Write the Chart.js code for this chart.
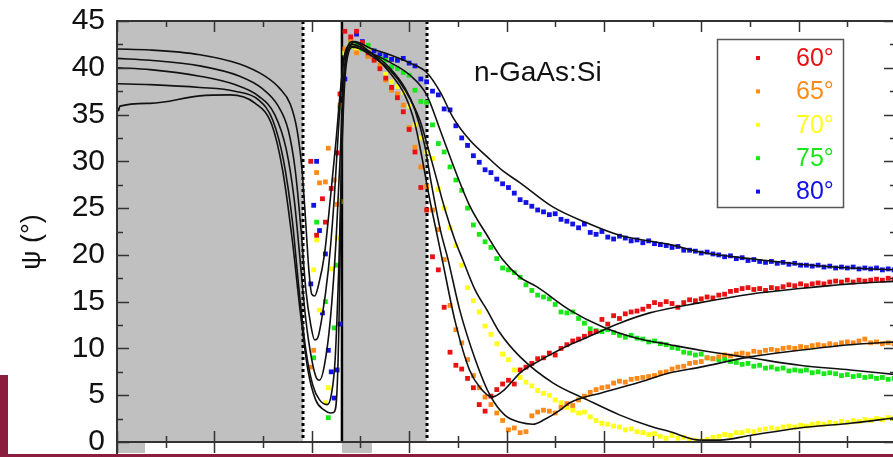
<!DOCTYPE html>
<html>
<head>
<meta charset="utf-8">
<script src="https://cdn.jsdelivr.net/npm/chart.js@4.4.1/dist/chart.umd.min.js"></script>
<style>
  html, body { margin: 0; padding: 0; background: #fff; overflow: hidden; }
  #wrap { position: absolute; left: 0; top: 0; width: 910px; height: 457px; }
  #band { position: absolute; left: 0; top: 375px; width: 8px; height: 82px; background: #8b1e3f; }
  #rule { position: absolute; left: 0; top: 454px; width: 893px; height: 3px; background: #8b1e3f; }
</style>
</head>
<body>
<div id="wrap"><canvas id="psiChart"></canvas></div>
<div id="band"></div>
<div id="rule"></div>
<script>
// measurement grid (x axis has no labels, arbitrary units)
const wavenumber = [
  196, 199, 202, 205, 208, 211, 214, 217, 220, 223, 226, 229,
  234, 240, 246, 252, 258, 264, 270, 276, 282, 288,
  294, 300, 306, 312, 318, 324, 330, 336, 342, 348,
  354, 360, 366, 372, 378, 384, 390, 396, 402, 408,
  414, 420, 426, 432, 438, 444, 450, 456, 462, 468,
  474, 480, 486, 492, 498, 504, 510, 516, 522, 528,
  534, 540, 546, 552, 558, 564, 570, 576, 582, 588,
  594, 600, 606, 612, 618, 624, 630, 636, 642, 648,
  654, 660, 666, 672, 678, 684, 690, 696, 702, 708,
  714, 720, 726, 732, 738, 744, 750, 756, 762, 768,
  774, 780, 786, 792, 798
];

// measured psi (deg) for each angle of incidence
const psi60 = [
  null, 30.0, null, 22.1, null, 26.0, 23.5, null, 27.1, null, 30.9, 37.2,
  43.9, 43.3, 43.9, 42.7, 41.6, 40.8, 39.9, 38.9, 37.9, 36.8,
  35.3, 33.4, 31.0, 27.2, 24.8, 19.8, 18.4, 14.4, 9.6, 8.2,
  7.8, 6.8, 5.8, 4.0, 3.3, 4.9, 5.6, 6.2, 6.6, 6.2,
  7.7, 8.0, 8.4, 8.9, 9.0, 9.5, 9.3, 10.0, 10.4, 10.8,
  11.0, 11.3, 11.6, 11.8, 13.1, 12.6, 13.5, 13.2, 13.7, 13.9,
  14.0, 14.2, 14.5, 14.9, 14.7, 15.0, 14.8, 14.4, 14.9, 15.2,
  15.1, 15.3, 15.5, 15.4, 15.7, 15.8, 16.1, 16.2, 16.4, 16.5,
  16.3, 16.4, 16.2, 16.5, 16.4, 16.6, 16.8, 16.7, 16.9, 16.7,
  16.9, 17.0, 16.9, 17.1, 17.2, 17.1, 17.3, 17.1, 17.3, 17.2,
  17.3, 17.4, 17.3, 17.5, 17.4
];
const psi65 = [
  null, 8.0, 9.8, 28.8, 27.7, null, 27.8, 31.4, null, 28.0, 25.4, 36.0,
  42.0, 42.9, 41.6, 42.3, 41.2, 41.0, 40.3, 38.7, 37.6, 37.2,
  36.0, 33.6, 31.5, 29.4, 27.3, 24.8, 22.7, 19.5, 14.6, 12.0,
  10.6, 8.8, 7.1, 5.8, 4.8, 4.0, 3.1, 2.3, 1.3, 1.5,
  1.0, 1.1, 2.8, 3.2, 3.4, 3.3, 3.1, 3.7, 4.1, 3.9,
  4.5, 4.9, 5.3, 5.6, 5.8, 5.9, 6.3, 6.5, 6.4, 6.7,
  6.8, 6.9, 7.0, 7.1, 7.4, 7.5, 7.8, 8.0, 8.1, 8.4,
  8.5, 8.6, 9.0, 8.9, 9.1, 9.3, 9.2, 9.4, 9.5, 9.4,
  9.7, 9.6, 9.8, 9.9, 9.8, 10.0, 10.1, 10.0, 10.2, 10.1,
  10.3, 10.4, 10.3, 10.5, 10.4, 10.6, 10.7, 10.6, 10.8, 11.0,
  10.6, 10.7, 10.5, 10.6, 10.5
];
const psi70 = [
  null, null, 18.4, 21.6, 14.1, null, 4.2, 5.8, 18.5, null, 21.8, 25.7,
  41.6, 42.3, 41.9, 42.4, 41.7, 41.0, 40.3, 39.3, 38.5, 38.0,
  37.4, 35.9, 33.9, 32.5, 31.0, 30.3, 27.0, 25.0, 22.9, 21.0,
  18.9, 16.5, 15.1, 13.9, 12.4, 11.5, 10.5, 9.4, 8.8, 7.7,
  6.9, 6.4, 6.0, 5.5, 5.2, 5.0, 4.5, 4.2, 3.7, 3.4,
  3.1, 3.2, 2.7, 2.3, 2.0, 1.9, 1.7, 1.6, 1.3, 1.4,
  1.1, 1.0, 0.8, 0.9, 0.6, 0.4, 0.7, 0.4, 0.5, 0.3,
  0.2, 0.1, 0.3, 0.5, 0.6, 0.8, 0.7, 1.0, 1.0, 1.2,
  1.1, 1.3, 1.4, 1.5, 1.4, 1.6, 1.7, 1.6, 1.8, 1.7,
  1.9, 2.0, 1.9, 2.1, 2.0, 2.2, 2.1, 2.3, 2.2, 2.4,
  2.3, 2.5, 2.4, 2.6, 2.5
];
const psi75 = [
  null, null, 9.0, 23.5, null, null, 15.0, 2.6, null, 12.2, 18.9, 35.8,
  41.6, 42.7, 42.5, 42.0, 42.4, 41.1, 41.0, 40.8, 40.1, 39.9,
  39.5, 39.2, 37.6, 36.4, 36.3, 33.9, 31.9, 31.0, 29.4, 28.0,
  26.9, 25.0, 23.2, 22.2, 21.4, 20.8, 19.6, 18.6, 18.4, 18.1,
  17.6, 16.8, 16.2, 15.7, 15.5, 15.3, 14.7, 13.9, 13.8, 13.9,
  13.2, 12.7, 12.1, 11.9, 11.8, 12.0, 11.7, 11.4, 11.2, 11.4,
  11.1, 11.0, 10.7, 10.8, 10.5, 10.4, 10.1, 10.0, 9.6, 9.5,
  9.3, 9.4, 9.0, 8.9, 8.8, 8.9, 8.6, 8.5, 8.3, 8.4,
  8.1, 8.2, 7.9, 8.0, 7.8, 7.9, 7.6, 7.7, 7.6, 7.7,
  7.4, 7.5, 7.3, 7.4, 7.3, 7.1, 7.2, 7.0, 7.1, 6.9,
  7.0, 6.8, 6.9, 6.7, 6.8
];
const psi80 = [
  null, 16.9, 25.3, 30.0, 22.6, 13.8, 20.1, 9.8, 7.5, 4.7, 7.7, 12.6,
  38.8, 42.8, 43.6, 42.8, 41.3, 41.8, 41.4, 41.3, 40.9, 40.8,
  41.0, 40.5, 40.2, 38.8, 38.5, 37.5, 37.1, 35.6, 35.5, 33.8,
  32.5, 31.7, 30.6, 29.9, 29.1, 28.8, 28.1, 27.6, 27.2, 26.6,
  25.9, 25.6, 25.2, 24.8, 24.6, 24.3, 24.4, 23.8, 23.6, 23.3,
  22.9, 23.3, 22.4, 22.2, 22.5, 21.9, 21.7, 22.0, 21.8, 21.5,
  21.6, 21.3, 21.5, 21.2, 21.1, 21.0, 20.8, 20.9, 20.5, 20.5,
  20.4, 20.2, 20.3, 20.1, 20.0, 19.8, 19.9, 19.6, 19.7, 19.4,
  19.5, 19.3, 19.2, 19.3, 19.1, 19.2, 19.0, 19.1, 18.9, 18.9,
  18.8, 18.9, 18.7, 18.8, 18.6, 18.7, 18.6, 18.7, 18.5, 18.6,
  18.5, 18.6, 18.4, 18.5, 18.4
];

// model fits (black lines)
const fit60x = [0, 34, 85, 126, 152, 167, 178, 185, 190, 194, 197, 200, 203, 207, 213, 219, 225, 229, 233, 238,
  242, 252, 265, 280, 296, 306, 313, 321, 328, 334, 347, 362, 373, 385, 398, 414, 434, 448, 465, 483,
  516, 547, 599, 650, 701, 753, 800];
const fit60y = [42.0, 41.9, 41.4, 40.4, 39.1, 37.8, 36.1, 33.3, 29.1, 23.2, 18.4, 15.8, 15.6, 16.8, 20.0, 25.9, 32.3, 37.1, 40.8, 42.5,
  42.8, 42.3, 41.2, 39.5, 37.0, 34.0, 30.5, 26.0, 22.5, 19.5, 13.0, 7.7, 5.8, 4.8, 5.6, 7.4, 8.7, 9.5, 10.4, 11.2,
  12.7, 13.8, 14.9, 15.8, 16.4, 16.9, 17.2];
const fit65x = [0, 34, 85, 126, 149, 165, 176, 183, 189, 194, 199, 203, 206, 210, 217, 223, 228, 232, 237, 242,
  252, 265, 280, 296, 306, 316, 323, 332, 340, 352, 368, 383, 398, 414, 427, 439, 455, 465, 499, 534,
  568, 599, 650, 701, 753, 800];
const fit65y = [41.0, 40.8, 40.2, 39.1, 37.8, 36.0, 33.3, 29.1, 22.7, 16.2, 12.5, 10.9, 11.1, 13.0, 18.4, 25.9, 34.4, 40.3, 42.3, 42.5,
  42.1, 41.3, 40.0, 37.8, 35.5, 31.7, 27.5, 22.7, 19.5, 14.1, 8.8, 5.0, 2.9, 2.1, 1.9, 2.4, 3.4, 4.2, 5.3, 6.3,
  7.4, 8.0, 9.1, 9.8, 10.4, 10.7];
const fit70x = [0, 34, 85, 121, 145, 162, 174, 182, 188, 194, 200, 205, 208, 213, 219, 225, 229, 232, 236, 242,
  252, 265, 280, 296, 311, 323, 337, 347, 355, 368, 380, 393, 414, 448, 483, 516, 547, 568, 599, 619,
  650, 701, 753, 800];
const fit70y = [40.0, 39.8, 39.1, 38.2, 37.0, 35.0, 31.2, 25.9, 19.5, 13.0, 8.8, 6.8, 6.6, 8.2, 13.0, 21.6, 30.1, 37.6, 41.7, 42.3,
  41.9, 41.0, 39.8, 37.6, 34.4, 30.1, 24.8, 21.6, 19.5, 16.2, 14.1, 11.7, 9.1, 6.3, 4.5, 2.9, 1.7, 1.1, 0.2, 0.2,
  0.7, 1.5, 2.0, 2.6];
const fit75x = [0, 34, 85, 121, 145, 160, 171, 180, 187, 194, 201, 208, 216, 220, 224, 228, 231, 234, 238, 242,
  260, 280, 301, 318, 332, 347, 362, 380, 396, 414, 431, 465, 499, 534, 568, 599, 650, 701, 753, 800];
const fit75y = [38.3, 38.2, 37.9, 37.5, 36.6, 34.4, 30.1, 23.7, 16.2, 9.8, 6.1, 4.5, 4.0, 5.0, 8.8, 19.5, 31.2, 38.7, 41.7, 42.2,
  41.6, 40.6, 39.2, 37.1, 33.3, 29.1, 25.3, 22.1, 19.5, 17.6, 16.6, 14.1, 12.3, 11.1, 10.4, 9.8, 9.0, 8.2, 7.7, 7.2];
const fit80x = [0, 1.5, 3, 34, 85, 116, 142, 159, 170, 180, 188, 196, 204, 213, 219, 223, 226, 228, 230, 232,
  235, 240, 244, 260, 280, 301, 318, 332, 345, 362, 380, 396, 414, 448, 483, 516, 568, 599, 650, 701,
  753, 800];
const fit80y = [35.9, 35.4, 35.9, 36.2, 37.0, 37.1, 36.2, 33.9, 29.1, 21.6, 14.1, 7.7, 4.5, 3.4, 3.1, 3.2, 5.6, 13.0, 25.9, 36.6,
  40.8, 42.4, 42.8, 42.1, 41.4, 40.5, 39.5, 37.4, 34.7, 32.3, 30.5, 29.0, 27.7, 25.1, 23.4, 22.1, 21.1, 20.3, 19.6, 19.0,
  18.6, 18.4];

const angleLabels = ['60°', '65°', '70°', '75°', '80°'];
const shadedBands = [[0, 191], [231, 318]];
const dottedEdges = [191, 318];
const solidEdge = 231;

const seriesColors = ['#e81212', '#ff8a18', '#ffff18', '#18e818', '#1212e8'];

function toPoints(xs, ys) {
    const pts = [];
    xs.forEach(function (x, i) {
        if (ys[i] !== null) pts.push({ x: x, y: ys[i] });
    });
    return pts;
}

const measured = [psi60, psi65, psi70, psi75, psi80];
const fits = [[fit60x, fit60y], [fit65x, fit65y], [fit70x, fit70y], [fit75x, fit75y], [fit80x, fit80y]];

const datasets = [];
fits.forEach(function (f, i) {
    datasets.push({
        label: 'fit ' + angleLabels[i],
        data: toPoints(f[0], f[1]),
        showLine: true,
        borderColor: '#111',
        borderWidth: 1.6,
        pointRadius: 0,
        cubicInterpolationMode: 'monotone',
        order: 0
    });
});
measured.forEach(function (ys, i) {
    datasets.push({
        label: angleLabels[i],
        data: toPoints(wavenumber, ys),
        showLine: false,
        pointStyle: 'rect',
        pointRadius: 3.4,
        pointBorderWidth: 0,
        pointBackgroundColor: seriesColors[i],
        backgroundColor: seriesColors[i],
        order: 1,
        isMeasured: true
    });
});

// shaded bands, frame, inward ticks, legend and annotations
const decorations = {
    id: 'decorations',
    beforeDatasetsDraw(chart) {
        const { ctx, chartArea: a, scales: { x } } = chart;
        ctx.save();
        ctx.fillStyle = '#c0c0c0';
        shadedBands.forEach(function (b) {
            const x0 = x.getPixelForValue(b[0]);
            const x1 = x.getPixelForValue(b[1]);
            ctx.fillRect(x0, a.top, x1 - x0, a.bottom - a.top);
        });
        ctx.strokeStyle = '#000';
        ctx.lineWidth = 3;
        ctx.setLineDash([3, 3]);
        dottedEdges.forEach(function (v) {
            const px = Math.round(x.getPixelForValue(v));
            ctx.beginPath();
            ctx.moveTo(px, a.top);
            ctx.lineTo(px, a.bottom);
            ctx.stroke();
        });
        ctx.setLineDash([]);
        ctx.lineWidth = 2.5;
        const sx = x.getPixelForValue(solidEdge);
        ctx.beginPath();
        ctx.moveTo(sx, a.top);
        ctx.lineTo(sx, a.bottom);
        ctx.stroke();
        ctx.restore();
    },
    afterDraw(chart) {
        const { ctx, chartArea: a, scales: { x, y } } = chart;
        ctx.save();

        // strip of the panel below
        ctx.fillStyle = '#c0c0c0';
        ctx.fillRect(a.left, a.bottom, 28, 11);
        const sx = x.getPixelForValue(solidEdge);
        ctx.fillRect(sx, a.bottom, 30, 11);

        // frame
        ctx.strokeStyle = '#333';
        ctx.lineWidth = 2;
        ctx.strokeRect(a.left, a.top, a.right - a.left, a.bottom - a.top);
        ctx.beginPath();
        ctx.moveTo(a.left, a.bottom);
        ctx.lineTo(a.left, 457);
        ctx.stroke();

        // inward ticks
        ctx.lineWidth = 1.5;
        ctx.beginPath();
        for (let v = 0; v <= 45; v += 2.5) {
            const py = Math.round(y.getPixelForValue(v)) + 0.5;
            const len = v % 5 === 0 ? 12 : 6;
            ctx.moveTo(a.left, py); ctx.lineTo(a.left + len, py);
            ctx.moveTo(a.right, py); ctx.lineTo(a.right - len, py);
        }
        for (let v = 0; v <= 800; v += 50) {
            const px = Math.round(x.getPixelForValue(v)) + 0.5;
            const len = v % 100 === 0 ? 11 : 6;
            ctx.moveTo(px, a.top); ctx.lineTo(px, a.top + len);
            ctx.moveTo(px, a.bottom - len); ctx.lineTo(px, a.bottom + len);
        }
        ctx.stroke();

        // axis title
        ctx.fillStyle = '#111';
        ctx.save();
        ctx.translate(33, 242);
        ctx.rotate(-Math.PI / 2);
        ctx.font = '27px "Liberation Sans", Arial, sans-serif';
        ctx.textAlign = 'center';
        ctx.textBaseline = 'middle';
        ctx.fillText('ψ (°)', 0, 0);
        ctx.restore();

        // sample label
        ctx.font = '28px "Liberation Sans", Arial, sans-serif';
        ctx.textAlign = 'left';
        ctx.textBaseline = 'alphabetic';
        ctx.fillText('n-GaAs:Si', 474, 81);

        // legend
        ctx.strokeStyle = '#555';
        ctx.lineWidth = 1.5;
        ctx.strokeRect(717.5, 39.5, 126, 168);
        ctx.font = '25px "Liberation Sans", Arial, sans-serif';
        ctx.textBaseline = 'middle';
        chart.data.datasets.filter(function (d) { return d.isMeasured; }).forEach(function (d, i) {
            const cy = 58 + 33.4 * i;
            ctx.fillStyle = d.backgroundColor;
            ctx.fillRect(756, cy - 2, 4, 4);
            ctx.fillText(d.label, 796, cy + 1);
        });
        ctx.restore();
    }
};

const chart = new Chart(document.getElementById('psiChart').getContext('2d'), {
    type: 'scatter',
    data: { datasets: datasets },
    options: {
        responsive: true,
        maintainAspectRatio: false,
        animation: false,
        layout: { padding: { left: 0, top: 21, right: 14, bottom: 15 } },
        plugins: { legend: { display: false }, tooltip: { enabled: false } },
        scales: {
            x: { type: 'linear', min: 0, max: 800, display: false },
            y: {
                type: 'linear',
                min: 0,
                max: 45,
                grid: { display: false, drawTicks: false },
                border: { display: false },
                ticks: {
                    stepSize: 5,
                    padding: 12,
                    color: '#111',
                    font: { family: '"Liberation Sans", Arial, sans-serif', size: 30 }
                },
                afterFit(scale) {
                    scale.width = 117;
                    scale.paddingTop = 0;
                    scale.paddingBottom = 0;
                }
            }
        }
    },
    plugins: [decorations]
});
</script>
</body>
</html>
